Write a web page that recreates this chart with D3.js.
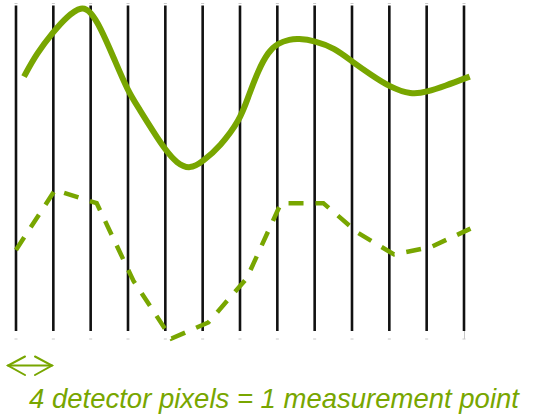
<!DOCTYPE html>
<html>
<head>
<meta charset="utf-8">
<script src="https://cdn.jsdelivr.net/npm/d3@7"></script>
<style>
  html, body { margin: 0; padding: 0; background: #fff; }
  svg { display: block; }
</style>
</head>
<body>
<svg id="chart" width="558" height="418"></svg>
<script>
// Detector pixel boundaries (grid lines)
const pixelBoundaries = [0, 1, 2, 3, 4, 5, 6, 7, 8, 9, 10, 11, 12];

// Continuous (true) signal: position in pixel units, intensity
const signalX = [0.214, 0.554, 1.0, 1.358, 1.76, 2.0, 2.25, 2.606, 3.0, 3.321, 3.678, 4.0, 4.304, 4.661, 5.0, 5.464, 6.0, 6.223, 6.491, 6.758, 7.01, 7.339, 7.554, 8.0, 8.537, 9.0, 9.518, 10.0, 10.589, 11.0, 11.483, 12.153];
const signalY = [77.8, 84.9, 91.5, 96.1, 99.4, 97.6, 93.1, 83.9, 73.2, 67.6, 60.9, 55.4, 51.3, 49.4, 51.8, 56.4, 64.5, 71.7, 79.8, 85.4, 88.0, 89.2, 89.4, 88.8, 86.5, 82.4, 78.3, 74.7, 72.2, 73.1, 74.9, 77.8];

// Measured (sampled) signal
const measuredX = [0.0, 1.045, 2.16, 3.147, 4.165, 5.151, 6.18, 7.098, 8.232, 9.16, 10.125, 11.116, 12.174];
const measuredY = [24.8, 43.1, 39.1, 15.3, -2.3, 2.6, 16.1, 39.1, 39.1, 30.0, 23.4, 25.7, 31.3];

const caption = "4 detector pixels = 1 measurement point";

const green = "#78a600";
const svg = d3.select("#chart");

const x = d3.scaleLinear().domain([0, 12]).range([16, 464]);
const y = d3.scaleLinear().domain([0, 100]).range([331, 4]);

// small gray tick marks at top and bottom
const tickG = svg.append("g");
pixelBoundaries.forEach(b => {
  [3.5, 339].forEach(ty => {
    tickG.append("line")
      .attr("x1", x(b) - 1.5).attr("x2", x(b) + 1.5)
      .attr("y1", ty).attr("y2", ty)
      .attr("stroke", "#c8c8c8").attr("stroke-width", 1);
  });
});
tickG.append("line")
  .attr("x1", x(12) + 0.5).attr("x2", x(12) + 0.5)
  .attr("y1", y(0)).attr("y2", 339)
  .attr("stroke", "#c8c8c8").attr("stroke-width", 1);

// grid lines (detector pixel boundaries)
svg.append("g").selectAll("line")
  .data(pixelBoundaries)
  .join("line")
  .attr("x1", d => x(d)).attr("x2", d => x(d))
  .attr("y1", y(100) + 1.5).attr("y2", y(0))
  .attr("stroke", "#111")
  .attr("stroke-width", 2.6);

// true signal
const signal = signalX.map((d, i) => [d, signalY[i]]);
svg.append("path")
  .datum(signal)
  .attr("fill", "none")
  .attr("stroke", green)
  .attr("stroke-width", 6)
  .attr("stroke-linecap", "butt")
  .attr("d", d3.line().x(d => x(d[0])).y(d => y(d[1])).curve(d3.curveBasis));

// measured signal
const measured = measuredX.map((d, i) => [d, measuredY[i]]);
svg.append("path")
  .datum(measured)
  .attr("fill", "none")
  .attr("stroke", green)
  .attr("stroke-width", 4.5)
  .attr("stroke-dasharray", "15,12")
  .attr("d", d3.line().x(d => x(d[0])).y(d => y(d[1])));

// double arrow
const arrowY = 365.5;
const ag = svg.append("g")
  .attr("stroke", green).attr("stroke-width", 2).attr("fill", "none")
  .attr("stroke-linecap", "round").attr("stroke-linejoin", "miter");
ag.append("line").attr("x1", 8).attr("x2", 52).attr("y1", arrowY).attr("y2", arrowY);
ag.append("polyline").attr("points", `25,${arrowY - 9} 8,${arrowY} 25,${arrowY + 9.5}`);
ag.append("polyline").attr("points", `35,${arrowY - 9} 52,${arrowY} 35,${arrowY + 9.5}`);

// caption
svg.append("text")
  .attr("x", 29).attr("y", 408)
  .attr("fill", green)
  .attr("font-family", "'Liberation Sans', Arial, sans-serif")
  .attr("font-style", "italic")
  .attr("font-size", 27.5)
  .text(caption);
</script>
</body>
</html>
